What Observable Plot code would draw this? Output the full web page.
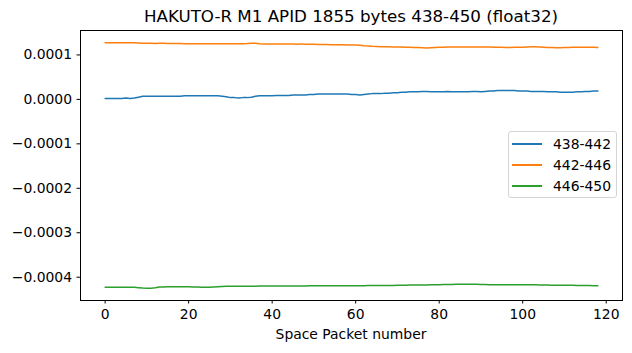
<!DOCTYPE html>
<html><head><meta charset="utf-8">
<script src="https://cdn.jsdelivr.net/npm/d3@7"></script>
<script src="https://cdn.jsdelivr.net/npm/@observablehq/plot@0.6"></script>
<style>
body{margin:0;background:#fff;font-family:"DejaVu Sans",sans-serif;}
#wrap{position:relative;width:632px;height:353px;overflow:hidden;}
#title{position:absolute;left:80px;width:542px;top:6px;text-align:center;font-size:16.7px;line-height:21px;color:#000;white-space:nowrap}
#chart{position:absolute;left:0;top:29px}
#xlabel{position:absolute;left:80px;width:542px;top:325px;text-align:center;font-size:13.9px;line-height:18px;color:#000}
#legend{position:absolute;left:508px;top:131px;width:107px;height:65px;border:1px solid #d5d5d5;border-radius:3px;background:rgba(255,255,255,0.85);font-size:13.9px;color:#000}
.row{position:absolute;left:0;height:18px;width:107px}
.sw{position:absolute;left:3px;top:8px;width:30px;height:2px}
.lb{position:absolute;left:44px;top:0;line-height:18px}
</style></head>
<body><div id="wrap"><div id="title"></div><div id="chart"></div><div id="xlabel"></div><div id="legend"></div></div>
<script>
// Chart texts
const titleText = "HAKUTO-R M1 APID 1855 bytes 438-450 (float32)";
const xLabel = "Space Packet number";
const seriesNames = ["438-442", "442-446", "446-450"];
const seriesColors = ["#1f77b4", "#ff7f0e", "#2ca02c"];
const xTicks = [0, 20, 40, 60, 80, 100, 120];
const yTicks = [-0.0004, -0.0003, -0.0002, -0.0001, 0, 0.0001];
const unit = 1e-7; // values below are in units of 1e-7

// packet numbers 0..118
const packets = d3.range(0, 119);

const s438_442 = [
  20,20,20,20,20,30,20,30,
  50,70,
  70,70,70,70,70,70,70,70,70,80,80,80,80,80,80,80,80,80,70,60,
  40,40,30,40,40,50,
  70,
  80,80,80,80,90,90,90,90,100,100,100,100,110,
  110,120,120,120,120,120,120,120,120,110,110,100,
  110,120,
  130,130,130,140,140,150,150,160,160,170,170,170,180,180,
  170,170,170,170,180,170,170,170,170,170,180,180,170,180,
  190,190,200,200,200,200,200,190,190,190,
  180,180,180,180,170,
  170,170,160,160,160,160,170,
  170,180,180,190,190
];
const s442_446 = [
  1274,1273,1274,1272,1273,1272,1273,1272,1270,
  1262,1261,1262,1260,1261,1262,1260,1259,1258,1256,
  1253,1252,1253,1252,1251,1252,1253,1251,1250,1251,1252,1250,1251,1250,1252,1255,
  1264,1262,1250,
  1246,1245,1246,1244,1245,1246,1245,1244,1243,1244,1243,1241,
  1238,1236,1235,1234,1232,1230,1229,1228,1226,1224,1222,1218,
  1208,1204,
  1195,1190,1186,1184,1182,1181,1180,1178,1176,1174,1170,1166,1160,1156,
  1162,1168,1172,1176,1178,1178,1180,1179,1178,1179,1180,1178,1177,1178,1177,1176,1174,
  1172,1170,1170,1171,1172,1175,1180,
  1184,1183,1180,1176,1170,1166,
  1162,1164,1168,1170,1172,
  1174,1175,1173,1172,1171,1170
];
const s446_450 = [
  -4225,-4226,-4225,-4224,-4225,-4226,-4225,-4226,
  -4236,-4244,-4248,-4246,-4236,
  -4222,-4218,-4216,-4217,-4216,-4215,-4216,-4217,-4218,
  -4222,-4226,-4228,-4226,-4222,-4216,-4210,
  -4204,-4203,-4202,-4203,-4204,-4203,-4202,-4201,-4200,-4200,-4199,-4198,-4199,-4198,-4197,-4198,-4197,
  -4196,-4197,-4196,-4195,-4194,-4195,-4194,-4193,-4194,-4193,-4192,-4193,-4192,-4191,-4191,-4190,
  -4190,-4189,-4189,-4188,-4187,-4186,-4185,-4184,-4183,-4182,-4180,-4178,-4177,-4176,
  -4175,-4173,-4171,-4170,-4168,-4166,-4164,-4162,-4160,-4159,-4158,-4157,-4157,
  -4160,-4163,-4166,-4168,-4170,-4171,-4171,
  -4170,-4169,-4168,-4168,-4169,-4170,-4171,-4172,
  -4174,-4176,-4178,-4180,-4181,-4180,-4179,-4180,
  -4182,-4184,-4186,-4188,-4189,-4190,-4191
];

const seriesValues = [s438_442, s442_446, s446_450];
const rows = [];
seriesValues.forEach((arr, k) => arr.forEach((v, j) => rows.push({series: seriesNames[k], x: packets[j], y: v * unit})));

// matplotlib-like 5% margins
const xExt = d3.extent(packets), yExt = d3.extent(rows, d => d.y);
const xPad = (xExt[1] - xExt[0]) * 0.05, yPad = (yExt[1] - yExt[0]) * 0.05;

const chart = Plot.plot({
  width: 632, height: 324,
  marginTop: 1, marginLeft: 80, marginRight: 10, marginBottom: 53,
  style: {fontFamily: "DejaVu Sans", fontSize: "13.9px", color: "black", background: "white"},
  x: {domain: [xExt[0] - xPad, xExt[1] + xPad]},
  y: {domain: [yExt[0] - yPad, yExt[1] + yPad]},
  color: {domain: seriesNames, range: seriesColors},
  marks: [
    Plot.line(rows, {x: "x", y: "y", z: "series", stroke: "series", strokeWidth: 1.5}),
    Plot.frame({stroke: "black", strokeWidth: 1}),
    Plot.axisY({ticks: yTicks, tickFormat: d3.format(".4f"), tickSize: 3.5, tickPadding: 5, label: null, fontSize: 13.9}),
    Plot.axisX({ticks: xTicks, tickFormat: d3.format("d"), tickSize: 3.5, tickPadding: 5, label: null, fontSize: 13.9})
  ]
});
document.getElementById("chart").appendChild(chart);
document.getElementById("title").textContent = titleText;
document.getElementById("xlabel").textContent = xLabel;
const leg = document.getElementById("legend");
seriesNames.forEach((n, k) => {
  const r = document.createElement("div");
  r.className = "row"; r.style.top = (3 + k * 21) + "px";
  r.innerHTML = `<div class="sw" style="background:${seriesColors[k]}"></div><div class="lb">${n}</div>`;
  leg.appendChild(r);
});
</script></body></html>
